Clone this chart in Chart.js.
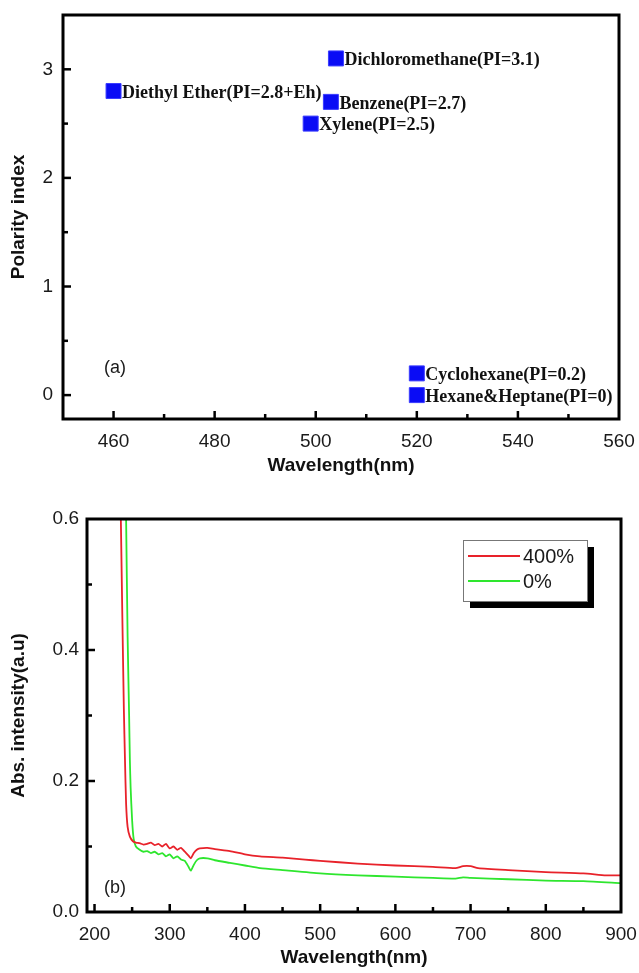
<!DOCTYPE html>
<html>
<head>
<meta charset="utf-8">
<script src="https://cdn.jsdelivr.net/npm/chart.js@4.4.1/dist/chart.umd.min.js"></script>
<style>
html, body { margin: 0; padding: 0; background: #fff; }
#wrap { position: relative; width: 639px; height: 973px; }
.box { position: absolute; left: 0; width: 639px; }
</style>
</head>
<body>
<div id="wrap">
  <div class="box" style="top:0;height:485px"><canvas id="chartA"></canvas></div>
  <div class="box" style="top:485px;height:488px"><canvas id="chartB"></canvas></div>
</div>
<script>
// (a) solvents: wavelength vs polarity index
const solventNames = ['Diethyl Ether(PI=2.8+Eh)', 'Dichloromethane(PI=3.1)', 'Benzene(PI=2.7)',
                      'Xylene(PI=2.5)', 'Cyclohexane(PI=0.2)', 'Hexane&Heptane(PI=0)'];
const solventWavelength = [460, 504, 503, 499, 520, 520];
const polarityIndex = [2.8, 3.1, 2.7, 2.5, 0.2, 0];
const xTicksA = [460, 480, 500, 520, 540, 560];
const yTicksA = [0, 1, 2, 3];

// (b) absorption spectra
const seriesNames = ['400%', '0%'];
const wl400 = [235, 237, 239, 240.5, 242, 244, 247, 251, 255, 260, 265, 270, 275, 280, 285, 290, 295, 300, 305, 310,
  315, 320, 325, 328, 332, 336, 340, 350, 360, 380, 400, 420, 450, 480, 500, 550, 600, 650, 680, 690, 700, 710, 750,
  800, 850, 880, 900];
const abs400 = [0.6, 0.45, 0.31, 0.232, 0.165, 0.13, 0.115, 0.108, 0.106, 0.105, 0.103, 0.104, 0.106, 0.102, 0.104, 0.1,
  0.104, 0.097, 0.1, 0.095, 0.098, 0.092, 0.086, 0.082, 0.09, 0.095, 0.097, 0.098, 0.096, 0.093, 0.088, 0.085, 0.083,
  0.08, 0.078, 0.074, 0.071, 0.069, 0.067, 0.07, 0.07, 0.067, 0.064, 0.061, 0.059, 0.056, 0.056];
const wl0 = [242, 244, 246, 247, 248, 250, 252, 255, 260, 265, 270, 275, 280, 285, 290, 295, 300, 305, 310, 315, 320,
  325, 328, 332, 336, 340, 350, 360, 380, 400, 420, 450, 500, 550, 600, 650, 680, 690, 700, 750, 800, 850, 900];
const abs0 = [0.6, 0.42, 0.3, 0.232, 0.19, 0.14, 0.112, 0.1, 0.095, 0.092, 0.093, 0.09, 0.092, 0.088, 0.09, 0.085,
  0.088, 0.082, 0.085, 0.08, 0.078, 0.069, 0.063, 0.072, 0.079, 0.082, 0.082, 0.079, 0.075, 0.071, 0.067, 0.064,
  0.059, 0.056, 0.054, 0.052, 0.051, 0.053, 0.052, 0.05, 0.048, 0.047, 0.044];
const xTicksB = [200, 300, 400, 500, 600, 700, 800, 900];
const yTicksB = [0, 0.2, 0.4, 0.6];

Chart.defaults.font.family = '"Liberation Sans", Arial, sans-serif';
Chart.defaults.color = '#1a1a1a';
Chart.defaults.animation = false;

// box frame + inward ticks (major + minor) on bottom and left
const framePlugin = {
    id: 'frame',
    afterDraw(chart) {
        const ctx = chart.ctx, a = chart.chartArea;
        const drawTicks = (scale, majors, horiz) => {
            const minors = [];
            for (let i = 0; i < majors.length - 1; i++) minors.push((majors[i] + majors[i + 1]) / 2);
            const st = majors[1] - majors[0];
            minors.push(majors[0] - st / 2, majors[majors.length - 1] + st / 2);
            const one = (v, len) => {
                if (v <= scale.min || v >= scale.max) return;
                const p = scale.getPixelForValue(v);
                ctx.beginPath();
                if (horiz) { ctx.moveTo(p, a.bottom); ctx.lineTo(p, a.bottom - len); }
                else { ctx.moveTo(a.left, p); ctx.lineTo(a.left + len, p); }
                ctx.stroke();
            };
            majors.forEach(v => one(v, 8));
            minors.forEach(v => one(v, 5));
        };
        ctx.save();
        ctx.strokeStyle = '#000';
        ctx.lineWidth = 2.5;
        drawTicks(chart.scales.x, chart.scales.x.ticks.map(t => t.value), true);
        drawTicks(chart.scales.y, chart.scales.y.ticks.map(t => t.value), false);
        ctx.lineWidth = 3;
        ctx.strokeRect(a.left, a.top, a.right - a.left, a.bottom - a.top);
        ctx.restore();
    }
};

// small text like (a) / (b) placed in data coordinates
const tagPlugin = {
    id: 'tag',
    afterDraw(chart, args, opts) {
        const ctx = chart.ctx;
        ctx.save();
        ctx.font = '18px "Liberation Sans", Arial, sans-serif';
        ctx.fillStyle = '#1a1a1a';
        ctx.textBaseline = 'middle';
        ctx.fillText(opts.text, chart.scales.x.getPixelForValue(opts.x), chart.scales.y.getPixelForValue(opts.y));
        ctx.restore();
    }
};

// names next to the squares in (a)
const pointLabels = {
    id: 'pointLabels',
    afterDatasetsDraw(chart) {
        const ctx = chart.ctx;
        const meta = chart.getDatasetMeta(0);
        ctx.save();
        ctx.font = 'bold 18px "Liberation Serif", "Times New Roman", serif';
        ctx.fillStyle = '#111';
        ctx.textBaseline = 'middle';
        meta.data.forEach((pt, i) => {
            ctx.fillText(solventNames[i], pt.x + 8.5, pt.y + 2);
        });
        ctx.restore();
    }
};

// shadowed legend box in (b)
const boxLegend = {
    id: 'boxLegend',
    afterDraw(chart) {
        const ctx = chart.ctx;
        const x = 463, y = 55, w = 124, h = 61;
        ctx.save();
        ctx.fillStyle = '#000';
        ctx.fillRect(x + 7, y + 7, w, h);
        ctx.fillStyle = '#fff';
        ctx.fillRect(x, y, w, h);
        ctx.strokeStyle = '#777';
        ctx.lineWidth = 1;
        ctx.strokeRect(x + 0.5, y + 0.5, w, h);
        ctx.font = '20px "Liberation Sans", Arial, sans-serif';
        ctx.textBaseline = 'middle';
        chart.data.datasets.forEach((ds, i) => {
            const ly = y + 16 + i * 25;
            ctx.strokeStyle = ds.borderColor;
            ctx.lineWidth = 2;
            ctx.beginPath();
            ctx.moveTo(x + 5, ly);
            ctx.lineTo(x + 57, ly);
            ctx.stroke();
            ctx.fillStyle = '#1a1a1a';
            ctx.fillText(ds.label, x + 60, ly + 1);
        });
        ctx.restore();
    }
};

function fixTicks(list) {
    return function (scale) { scale.ticks = list.map(v => ({ value: v })); };
}
function fitX(h) {
    return function (s) { s.height = h; s.paddingLeft = 0; s.paddingRight = 0; };
}
function fitY(w) {
    return function (s) { s.width = w; s.paddingTop = 0; s.paddingBottom = 0; };
}

const titleFont = { size: 19, weight: 'bold' };
const tickFont = { size: 19 };

new Chart(document.getElementById('chartA'), {
    type: 'scatter',
    data: {
        datasets: [{
            data: solventWavelength.map((w, i) => ({ x: w, y: polarityIndex[i] })),
            pointStyle: 'rect',
            pointRadius: 10.6,
            pointHoverRadius: 10.6,
            backgroundColor: '#0a0cf5',
            borderColor: '#3a3cff',
            borderWidth: 1
        }]
    },
    options: {
        responsive: true,
        maintainAspectRatio: false,
        layout: { padding: { left: 0, right: 20, top: 15, bottom: 0 } },
        plugins: {
            legend: { display: false },
            tooltip: { enabled: false },
            tag: { text: '(a)', x: 458.1, y: 0.25 }
        },
        scales: {
            x: {
                type: 'linear', min: 450, max: 560,
                afterBuildTicks: fixTicks(xTicksA),
                afterFit: fitX(66),
                grid: { display: false, drawTicks: false },
                border: { display: false },
                ticks: { font: tickFont, padding: 11, maxRotation: 0 },
                title: { display: true, text: 'Wavelength(nm)', font: titleFont, color: '#111', padding: { top: 0, bottom: 8 } }
            },
            y: {
                type: 'linear', min: -0.22, max: 3.5,
                afterBuildTicks: fixTicks(yTicksA),
                afterFit: fitY(63),
                grid: { display: false, drawTicks: false },
                border: { display: false },
                ticks: { font: tickFont, padding: 10 },
                title: { display: true, text: 'Polarity index', font: titleFont, color: '#111', padding: { top: 7, bottom: 0 } }
            }
        }
    },
    plugins: [pointLabels, framePlugin, tagPlugin]
});

new Chart(document.getElementById('chartB'), {
    type: 'scatter',
    data: {
        datasets: [
            { label: seriesNames[0], data: wl400.map((w, i) => ({ x: w, y: abs400[i] })), borderColor: '#e8222a' },
            { label: seriesNames[1], data: wl0.map((w, i) => ({ x: w, y: abs0[i] })), borderColor: '#2ee62e' }
        ].map(d => Object.assign(d, { showLine: true, pointRadius: 0, borderWidth: 1.8, tension: 0.2, fill: false }))
    },
    options: {
        responsive: true,
        maintainAspectRatio: false,
        layout: { padding: { left: 0, right: 18, top: 34, bottom: 0 } },
        plugins: {
            legend: { display: false },
            tooltip: { enabled: false },
            tag: { text: '(b)', x: 212.6, y: 0.037 }
        },
        scales: {
            x: {
                type: 'linear', min: 190, max: 900,
                afterBuildTicks: fixTicks(xTicksB),
                afterFit: fitX(61),
                grid: { display: false, drawTicks: false },
                border: { display: false },
                ticks: { font: tickFont, padding: 11, maxRotation: 0 },
                title: { display: true, text: 'Wavelength(nm)', font: titleFont, color: '#111', padding: { top: 0, bottom: 4 } }
            },
            y: {
                type: 'linear', min: 0, max: 0.6,
                afterBuildTicks: fixTicks(yTicksB),
                afterFit: fitY(87),
                grid: { display: false, drawTicks: false },
                border: { display: false },
                ticks: { font: tickFont, padding: 8, callback: v => v.toFixed(1) },
                title: { display: true, text: 'Abs. intensity(a.u)', font: titleFont, color: '#111', padding: { top: 7, bottom: 0 } }
            }
        }
    },
    plugins: [framePlugin, tagPlugin, boxLegend]
});
</script>
</body>
</html>
